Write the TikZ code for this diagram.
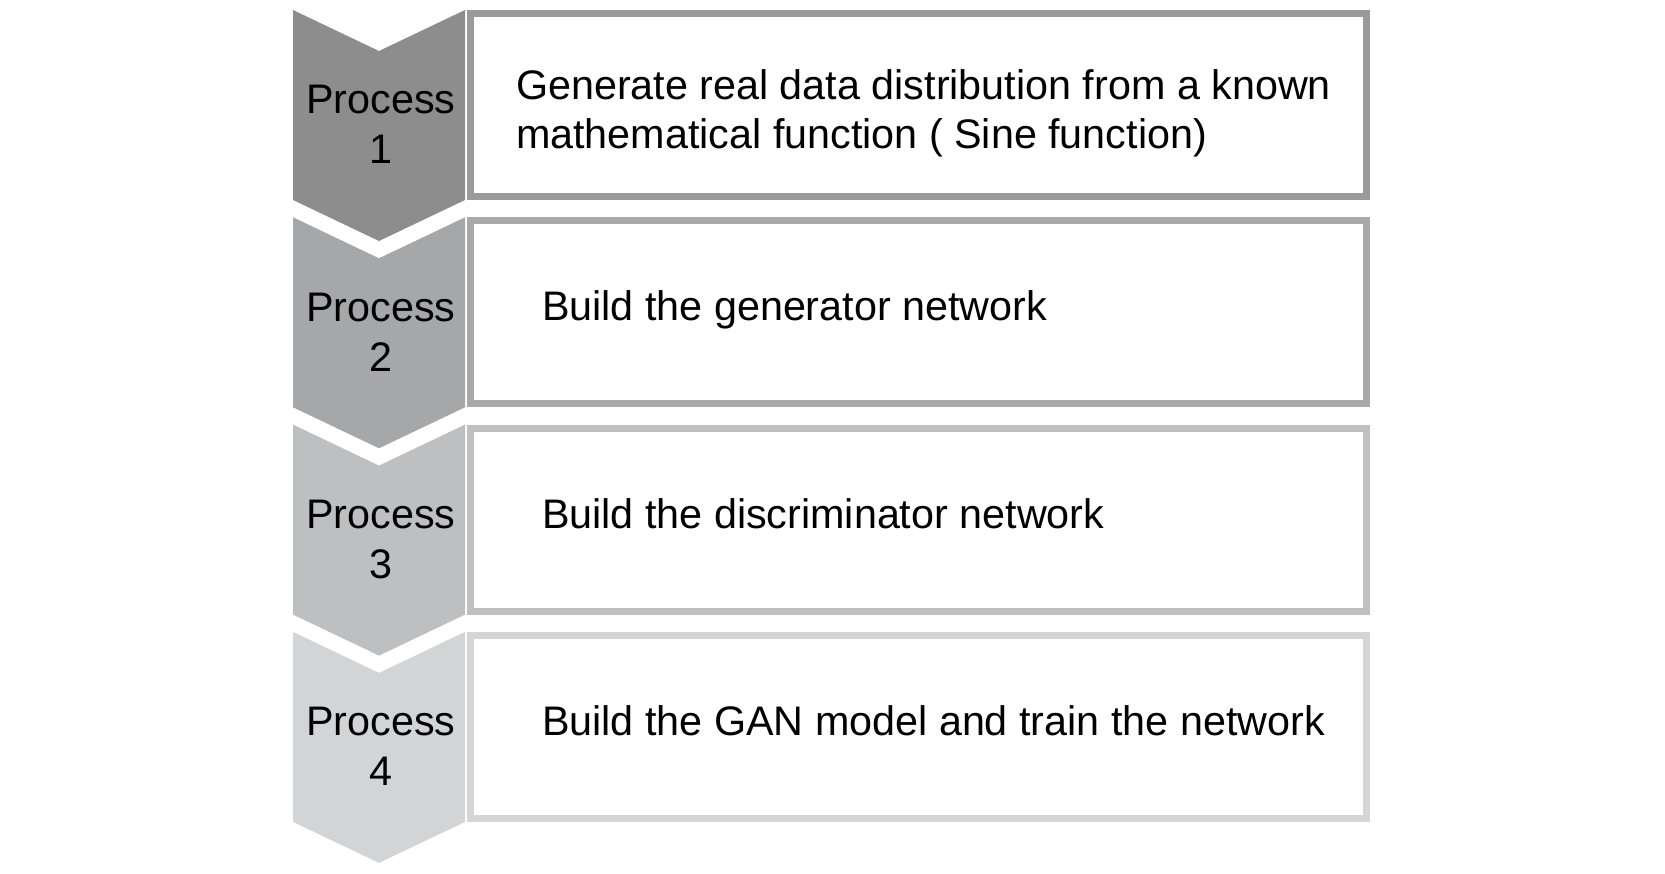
\documentclass[tikz,border=0pt]{standalone}
\usepackage{fontspec}
\setsansfont{Liberation Sans}
\usepackage{xcolor}
\usetikzlibrary{positioning}

\definecolor{stepA}{RGB}{141,141,142}
\definecolor{stepB}{RGB}{166,167,168}
\definecolor{stepC}{RGB}{190,191,193}
\definecolor{stepD}{RGB}{211,212,214}
\definecolor{rimA}{RGB}{153,154,155}
\definecolor{rimB}{RGB}{168,169,170}
\definecolor{rimC}{RGB}{191,192,194}
\definecolor{rimD}{RGB}{212,213,215}

\begin{document}
\begin{tikzpicture}[
  x=1pt, y=-1pt,
  every node/.style={font=\sffamily\fontsize{41.3}{50}\selectfont,
    inner sep=0pt, outer sep=0pt},
  taskbox/.style={draw, line width=7pt, minimum width=896pt,
    minimum height=183pt},
  tasktext/.style={anchor=base west},
  steplabel/.style={align=center},
]
  \useasboundingbox (0,0) rectangle (1665,874);

  % Task boxes
  \node[taskbox, draw=rimA] (box1) at (918.5,105) {};
  \node[taskbox, draw=rimB, below=24.3pt of box1] (box2) {};
  \node[taskbox, draw=rimC, below=24.3pt of box2] (box3) {};
  \node[taskbox, draw=rimD, below=24.3pt of box3] (box4) {};

  % Chevrons
  \fill[stepA] (293,10) -- ++(86,41) -- ++(86,-41) -- ++(0,190)
    -- ++(-86,41) -- ++(-86,-41) -- cycle;
  \fill[stepB] (293,217.3) -- ++(86,41) -- ++(86,-41) -- ++(0,190)
    -- ++(-86,41) -- ++(-86,-41) -- cycle;
  \fill[stepC] (293,424.6) -- ++(86,41) -- ++(86,-41) -- ++(0,190)
    -- ++(-86,41) -- ++(-86,-41) -- cycle;
  \fill[stepD] (293,631.9) -- ++(86,41) -- ++(86,-41) -- ++(0,190)
    -- ++(-86,41) -- ++(-86,-41) -- cycle;

  % Chevron labels
  \node[steplabel] (step1) at (381,124.5) {Process\\1};
  \node[steplabel] (step2) at (381,331.8) {Process\\2};
  \node[steplabel] (step3) at (381,539.1) {Process\\3};
  \node[steplabel] (step4) at (381,746.4) {Process\\4};

  % Task texts
  \node[anchor=west, align=left,
    font=\sffamily\fontsize{41.3}{49}\selectfont] (task1) at (516,113)
    {Generate real data distribution from a known\\mathematical function ( Sine function)};
  \node[tasktext] (task2) at (542,321) {Build the generator network};
  \node[tasktext] (task3) at (542,528.3) {Build the discriminator network};
  \node[tasktext] (task4) at (542,735.6) {Build the GAN model and train the network};

\end{tikzpicture}
\end{document}
